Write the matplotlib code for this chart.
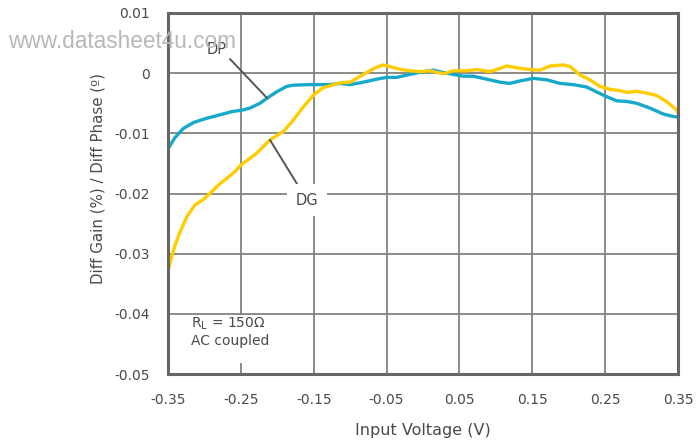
import matplotlib
matplotlib.use("Agg")
import matplotlib.pyplot as plt
from matplotlib.patches import Rectangle

plt.rcParams['axes.unicode_minus'] = False
plt.rcParams['font.family'] = ['DejaVu Sans']

# Differential phase (DP) - cyan
dp_x = [-0.35, -0.3486, -0.3404, -0.329, -0.315, -0.297, -0.281, -0.2626, -0.2467, -0.2375,
        -0.2237, -0.2145, -0.2008, -0.1871, -0.178, -0.155, -0.1277, -0.114, -0.100, -0.082,
        -0.0636, -0.050, -0.036, -0.018, 0.0004, 0.014, 0.028, 0.0416, 0.055, 0.069,
        0.0874, 0.1057, 0.119, 0.133, 0.1514, 0.1698, 0.188, 0.206, 0.2246, 0.238,
        0.252, 0.2658, 0.2796, 0.293, 0.3115, 0.330, 0.3435, 0.35]
dp_y = [-0.0126, -0.0123, -0.0107, -0.0092, -0.0082, -0.0075, -0.0070, -0.0064, -0.0061, -0.0058,
        -0.0050, -0.0042, -0.0031, -0.0022, -0.0020, -0.0019, -0.0019, -0.0017, -0.0019, -0.0015,
        -0.0010, -0.0007, -0.0007, -0.0002, 0.00025, 0.0005, 0.0001, -0.0002, -0.0005, -0.0005,
        -0.0010, -0.0015, -0.0017, -0.0013, -0.00086, -0.0011, -0.0017, -0.0019, -0.0023, -0.0031,
        -0.0039, -0.0046, -0.0047, -0.0050, -0.0058, -0.0068, -0.0072, -0.0073]

# Differential gain (DG) - yellow
dg_x = [-0.35, -0.3486, -0.345, -0.3404, -0.3335, -0.3243, -0.313, -0.3015, -0.2924, -0.281,
        -0.2694, -0.2567, -0.2512, -0.2283, -0.21, -0.1917, -0.178, -0.1643, -0.150, -0.1368,
        -0.1277, -0.114, -0.100, -0.091, -0.0773, -0.0636, -0.0545, -0.0453, -0.0316, -0.018,
        -0.004, 0.0096, 0.028, 0.0416, 0.060, 0.0737, 0.092, 0.101, 0.115, 0.133,
        0.147, 0.1606, 0.1743, 0.1926, 0.2018, 0.2155, 0.229, 0.243, 0.257, 0.2704,
        0.2796, 0.293, 0.3067, 0.3205, 0.334, 0.348, 0.35]
dg_y = [-0.0326, -0.0323, -0.0305, -0.0286, -0.0264, -0.0239, -0.0219, -0.0210, -0.0200, -0.0186,
        -0.0175, -0.0162, -0.0154, -0.0133, -0.0111, -0.0097, -0.0078, -0.0056, -0.0036, -0.0024,
        -0.0021, -0.0016, -0.0015, -0.00086, 0.0001, 0.0010, 0.00136, 0.0011, 0.00064, 0.0004,
        0.00025, 0.0004, -0.0001, 0.0004, 0.0004, 0.0006, 0.00025, 0.0006, 0.0012, 0.0008,
        0.0006, 0.0005, 0.0012, 0.00136, 0.0011, -0.0003, -0.0011, -0.0022, -0.0027, -0.0029,
        -0.0032, -0.0030, -0.0033, -0.0037, -0.0047, -0.0061, -0.0067]

x_ticks = [-0.35, -0.25, -0.15, -0.05, 0.05, 0.15, 0.25, 0.35]
x_ticklabels = ["-0.35", "-0.25", "-0.15", "-0.05", "0.05", "0.15", "0.25", "0.35"]
y_ticks = [-0.05, -0.04, -0.03, -0.02, -0.01, 0, 0.01]
y_ticklabels = ["-0.05", "-0.04", "-0.03", "-0.02", "-0.01", "0", "0.01"]

text_color = '#4a4a4a'
grid_color = '#85827c'
spine_color = '#666666'
cyan = '#16a9c9'
yellow = '#ffcc00'

fig = plt.figure(figsize=(6.96, 4.45), dpi=100)
ax = fig.add_axes([168/696, 1 - 374/445, 510/696, 361/445])
ax.set_xlim(-0.35, 0.35)
ax.set_ylim(-0.05, 0.01)
ax.set_xticks(x_ticks)
ax.set_xticklabels(x_ticklabels)
ax.set_yticks(y_ticks)
ax.set_yticklabels(y_ticklabels)
ax.tick_params(length=0, labelsize=10, colors=text_color)
ax.tick_params(axis='x', pad=14)
ax.tick_params(axis='y', pad=13)
ax.grid(True, color=grid_color, linewidth=1.3, zorder=0)
ax.set_axisbelow(True)
for s in ax.spines.values():
    s.set_color(spine_color)
    s.set_linewidth(2.2)
    s.set_zorder(5)

ax.plot(dp_x, dp_y, color=cyan, linewidth=2.4, zorder=3, solid_capstyle='butt')
ax.plot(dg_x, dg_y, color=yellow, linewidth=2.4, zorder=3, solid_capstyle='butt')

ax.set_xlabel("Input Voltage (V)", fontsize=11.5, color=text_color, labelpad=11)
ax.set_ylabel("Diff Gain (%) / Diff Phase (º)", fontsize=10.8, color=text_color)
ax.yaxis.set_label_coords(-0.1235, (374 - 178) / 361)

# annotations
ax.annotate("", xy=(-0.2141, -0.00413), xytext=(-0.2649, 0.00235),
            arrowprops=dict(arrowstyle='-', color='#555555', lw=1.4, shrinkA=0, shrinkB=0),
            zorder=4)
ax.text(-0.2828, 0.0040, "DP", fontsize=10.5, color=text_color, ha='center', va='center', zorder=4)
ax.annotate("DG", xy=(-0.21, -0.0111), xytext=(-0.1592, -0.0211),
            fontsize=10.5, color=text_color, ha='center', va='center',
            bbox=dict(boxstyle='square,pad=0.6', fc='white', ec='none'),
            arrowprops=dict(arrowstyle='-', color='#555555', lw=1.4, shrinkA=0, shrinkB=0),
            zorder=4)

# condition box
ax.add_patch(Rectangle((15/510, 11/361), 113/510, 48/361, transform=ax.transAxes,
                       facecolor='white', edgecolor='none', zorder=2))
ax.text(23/510, (374-332)/361, "R$_\\mathregular{L}$ = 150Ω\nAC coupled", transform=ax.transAxes,
        fontsize=10, color=text_color, ha='left', va='center', linespacing=1.2, zorder=4)

# watermark
fig.text(8/696, 1 - 42/445, "www.datasheet4u.com", fontsize=16.3, color='#b8b8b8',
         family='Liberation Sans', ha='left', va='center', zorder=10)

fig.savefig("out.png", dpi=100)
